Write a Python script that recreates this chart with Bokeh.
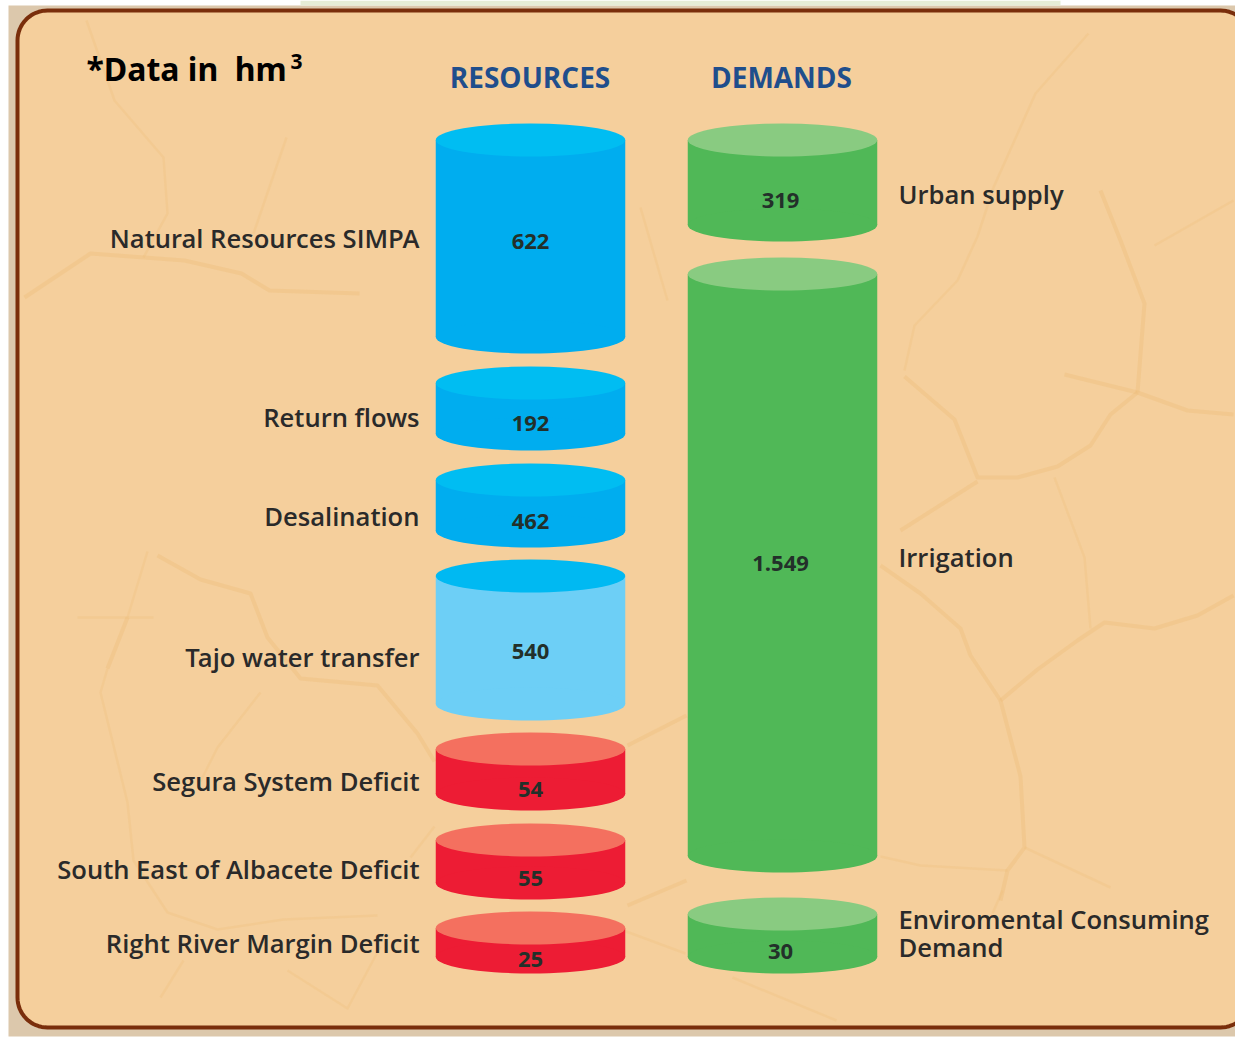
import math
from bokeh.plotting import figure
from bokeh.models import Range1d, ColumnDataSource
from bokeh.core.properties import value
from bokeh.embed import file_html
from bokeh.resources import INLINE

# ---- data ----
resource_labels = ["Natural Resources SIMPA", "Return flows", "Desalination", "Tajo water transfer",
                   "Segura System Deficit", "South East of Albacete Deficit", "Right River Margin Deficit"]
resource_values = ["622", "192", "462", "540", "54", "55", "25"]
resource_top = [123, 366, 463, 559, 732, 823, 911]
resource_bottom = [353, 450, 547, 720, 810, 899, 973]
resource_value_y = [241, 423, 521, 651, 789, 878, 959]
resource_label_y = [238, 417, 516, 657, 781, 869, 943]

demand_labels = ["Urban supply", "Irrigation", "Enviromental Consuming\nDemand"]
demand_values = ["319", "1.549", "30"]
demand_top = [123, 257, 897]
demand_bottom = [241, 872, 973]
demand_value_y = [200, 563, 951]
demand_label_y = [194, 557, 933]

headers = ["RESOURCES", "DEMANDS"]

# ---- styles ----
BODY = ["#00ADEF", "#00ADEF", "#00ADEF", "#6DCFF6", "#ED1C34", "#ED1C34", "#ED1C34"]
CAP = ["#00BDF2", "#00BDF2", "#00BDF2", "#00B9F2", "#F4705F", "#F4705F", "#F4705F"]
GREEN, GREEN_CAP = "#50B857", "#89CB81"
SAND = "#F5CF9C"
CRACK = "#EBBB74"
RX, DX, CW, CH = 530, 782, 189.5, 33

p = figure(width=1235, height=1038, output_backend="svg", toolbar_location=None,
           x_range=Range1d(0, 1235), y_range=Range1d(1038, 0),
           min_border=0, min_border_left=0, min_border_right=0, min_border_top=0, min_border_bottom=0,
           x_axis_type=None, y_axis_type=None, outline_line_color=None,
           background_fill_color="#FFFFFF", border_fill_color="#FFFFFF")
p.grid.visible = False


def rounded(l, r, t, b, rad):
    xs, ys = [], []
    for cx, cy, a0 in [(l + rad, t + rad, 180), (r - rad, t + rad, 270), (r - rad, b - rad, 0), (l + rad, b - rad, 90)]:
        for k in range(17):
            a = math.radians(a0 + 90 * k / 16)
            xs.append(cx + rad * math.cos(a))
            ys.append(cy + rad * math.sin(a))
    return xs, ys


p.quad(left=[8], right=[1235], top=[5], bottom=[1036], fill_color="#DCC8AC", line_color=None)
p.quad(left=[300], right=[1060], top=[0], bottom=[5], fill_color="#E6EDD6", line_color=None)
px, py = rounded(17, 1250, 10, 1027, 30)
p.patch(px, py, fill_color=SAND, line_color="#7A2E0B", line_width=4)

strong = [
    [(1233, 595), (1197, 615), (1154, 628), (1104, 622), (1077, 640), (1037, 669), (1000, 700)],
    [(1000, 700), (1020, 776), (1024, 847), (1007, 870), (1000, 900)],
    [(1000, 700), (970, 655), (960, 628), (920, 593), (880, 565)],
    [(904, 376), (954, 419), (977, 477), (1017, 477), (1057, 466), (1090, 445), (1110, 414), (1137, 392)],
    [(900, 530), (977, 481)],
    [(1064, 374), (1137, 392), (1187, 410), (1233, 414)],
    [(1137, 392), (1144, 303), (1120, 240), (1100, 190)],
    [(157, 555), (200, 579), (250, 593), (267, 637), (300, 678), (377, 685), (417, 733), (434, 761)],
    [(24, 297), (90, 253), (184, 260), (241, 273), (269, 290), (359, 293)],
    [(127, 617), (107, 668)],
    [(627, 745), (686, 715)],
    [(627, 905), (686, 880)],
]
faint = [
    [(1090, 628), (1084, 557), (1054, 477)],
    [(1233, 200), (1154, 245)],
    [(904, 370), (914, 325), (957, 280), (977, 236), (993, 187), (1035, 93), (1088, 33)],
    [(1007, 870), (920, 865), (880, 856)],
    [(1024, 847), (1110, 887)],
    [(77, 617), (153, 617)],
    [(147, 551), (127, 617)],
    [(107, 668), (100, 692), (127, 802), (133, 860), (167, 912), (217, 929), (283, 919), (377, 915)],
    [(260, 692), (217, 747), (200, 781)],
    [(183, 960), (160, 997)],
    [(287, 970), (347, 1008), (380, 946)],
    [(434, 826), (410, 857)],
    [(86, 20), (114, 100), (163, 157), (167, 213), (143, 257)],
    [(286, 137), (253, 233)],
    [(640, 207), (667, 300)],
    [(623, 930), (685, 953)],
    [(732, 977), (836, 1020)],
    [(1002, 890), (992, 913)],
]
for group, w, alpha in [(strong, 4, 0.32), (faint, 2.5, 0.22)]:
    p.multi_line([[q[0] for q in c] for c in group], [[q[1] for q in c] for c in group],
                 line_color=CRACK, line_width=w, line_alpha=alpha, line_join="round")


def cylinders(x, tops, bottoms, body, cap):
    n = len(tops)
    src = ColumnDataSource(dict(
        x=[x] * n, top=[t + CH / 2 for t in tops], bottom=[b - CH / 2 for b in bottoms],
        body=body, cap=cap))
    p.vbar(x="x", width=CW, top="top", bottom="bottom", fill_color="body", line_color=None, source=src)
    p.ellipse(x="x", y="bottom", width=CW, height=CH, fill_color="body", line_color=None, source=src)
    p.ellipse(x="x", y="top", width=CW, height=CH, fill_color="cap", line_color=None, source=src)


cylinders(RX, resource_top, resource_bottom, BODY, CAP)
cylinders(DX, demand_top, demand_bottom, [GREEN] * 3, [GREEN_CAP] * 3)

LBL = dict(text_font=value("Open Sans SemiBold"), text_color="#2A2A2A", text_font_size="25.6px", text_baseline="middle")
p.text(x=[419] * 7, y=resource_label_y, text=resource_labels, text_align="right", **LBL)
p.text(x=[898] * 3, y=demand_label_y, text=demand_labels, text_align="left", text_line_height=0.82, **LBL)

VAL = dict(text_font=value("Open Sans"), text_color="#23302A", text_font_size="22px",
           text_font_style="bold", text_align="center", text_baseline="middle")
p.text(x=[RX] * 7, y=resource_value_y, text=resource_values, **VAL)
p.text(x=[780] * 3, y=demand_value_y, text=demand_values, **VAL)

p.text(x=[RX - 0.5, DX - 1], y=[76.5, 76.5], text=headers, text_font=value("Open Sans"), text_font_style="bold",
       text_font_size="28px", text_color="#1F4E8C", text_align="center", text_baseline="middle")

p.text(x=[86], y=[68], text=["*Data in\u00a0\u00a0hm"], text_font=value("Noto Sans"), text_font_style="bold",
       text_font_size="32px", text_color="#000000", text_baseline="middle")
p.text(x=[290], y=[61], text=["3"], text_font=value("Noto Sans"), text_font_style="bold",
       text_font_size="21px", text_color="#000000", text_baseline="middle")

open("out.html", "w").write(file_html(p, INLINE))
